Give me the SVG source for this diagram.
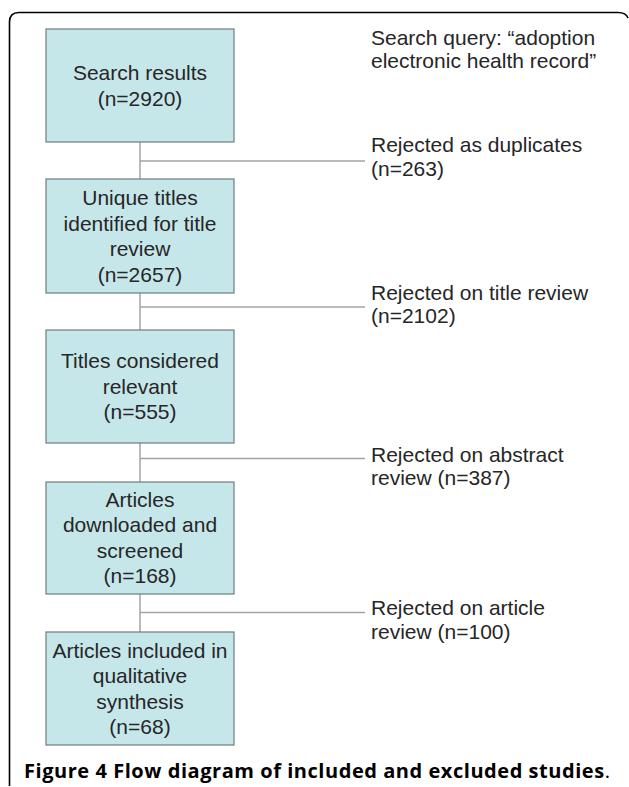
<svg xmlns="http://www.w3.org/2000/svg" width="629" height="787" viewBox="0 0 629 787">
<style>
.box{fill:#c6e7ea;stroke:#6f7c7f;stroke-width:1.2}
.bt{font-family:"Liberation Sans",Arial,sans-serif;font-size:21px;fill:#262626;text-anchor:middle}
.rt{font-family:"Liberation Sans",Arial,sans-serif;font-size:21px;fill:#262626}
.con{stroke:#a3a3a3;stroke-width:1.5;fill:none}
.cap{font-family:"Open Sans","Noto Sans",sans-serif;font-size:20px;fill:#000}
</style>
<rect width="629" height="787" fill="#fff"/>
<path d="M9.5 786 V22 Q9.5 12.5 19 12.5 H618 Q626 12.5 628 18" fill="none" stroke="#000" stroke-width="1.6"/>
<g id="connectors">
<line class="con" x1="140" y1="142" x2="140" y2="179"/>
<line class="con" x1="140" y1="161" x2="365" y2="161"/>
<line class="con" x1="140" y1="293" x2="140" y2="330"/>
<line class="con" x1="140" y1="307" x2="365" y2="307"/>
<line class="con" x1="140" y1="443" x2="140" y2="482"/>
<line class="con" x1="140" y1="458.5" x2="365" y2="458.5"/>
<line class="con" x1="140" y1="594" x2="140" y2="632"/>
<line class="con" x1="140" y1="612.5" x2="365" y2="612.5"/>
</g>
<g id="search-results">
<rect class="box" x="46" y="29" width="188" height="113"/>
<text class="bt" x="140" y="80">Search results</text>
<text class="bt" x="140" y="105.5">(n=2920)</text>
</g>
<g id="unique-titles">
<rect class="box" x="46" y="179" width="188" height="114"/>
<text class="bt" x="140" y="205">Unique titles</text>
<text class="bt" x="140" y="230.5">identified for title</text>
<text class="bt" x="140" y="256">review</text>
<text class="bt" x="140" y="281.5">(n=2657)</text>
</g>
<g id="titles-relevant">
<rect class="box" x="46" y="330" width="188" height="113"/>
<text class="bt" x="140" y="368">Titles considered</text>
<text class="bt" x="140" y="393.5">relevant</text>
<text class="bt" x="140" y="419">(n=555)</text>
</g>
<g id="articles-downloaded">
<rect class="box" x="46" y="482" width="188" height="112"/>
<text class="bt" x="140" y="506.5">Articles</text>
<text class="bt" x="140" y="532">downloaded and</text>
<text class="bt" x="140" y="557.5">screened</text>
<text class="bt" x="140" y="583">(n=168)</text>
</g>
<g id="articles-included">
<rect class="box" x="46" y="632" width="188" height="113"/>
<text class="bt" x="140" y="657.5">Articles included in</text>
<text class="bt" x="140" y="683">qualitative</text>
<text class="bt" x="140" y="708.5">synthesis</text>
<text class="bt" x="140" y="734">(n=68)</text>
</g>
<g id="search-query">
<text class="rt" x="371" y="44.5">Search query: “adoption</text>
<text class="rt" x="371" y="68">electronic health record”</text>
</g>
<g id="rejected-duplicates">
<text class="rt" x="371" y="152">Rejected as duplicates</text>
<text class="rt" x="371" y="175.5">(n=263)</text>
</g>
<g id="rejected-title">
<text class="rt" x="371" y="299.5">Rejected on title review</text>
<text class="rt" x="371" y="323">(n=2102)</text>
</g>
<g id="rejected-abstract">
<text class="rt" x="371" y="461.5">Rejected on abstract</text>
<text class="rt" x="371" y="485">review (n=387)</text>
</g>
<g id="rejected-article">
<text class="rt" x="371" y="615">Rejected on article</text>
<text class="rt" x="371" y="638.5">review (n=100)</text>
</g>
<text class="cap" x="24" y="778" textLength="586" lengthAdjust="spacing"><tspan font-weight="bold">Figure 4 Flow diagram of included and excluded studies</tspan>.</text>
</svg>
